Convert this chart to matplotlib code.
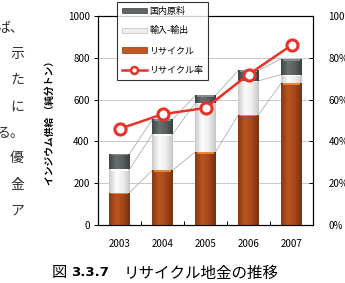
import matplotlib
matplotlib.use("Agg")
import matplotlib.pyplot as plt
import numpy as np
from matplotlib.patches import Rectangle
from matplotlib.lines import Line2D
from matplotlib.colors import LinearSegmentedColormap

plt.rcParams['font.family'] = ['Noto Sans CJK JP', 'DejaVu Sans']

years = ['2003', '2004', '2005', '2006', '2007']
recycle = [155, 262, 350, 528, 680]
import_export = [112, 173, 235, 162, 40]
domestic = [75, 70, 35, 50, 75]
recycle_rate = [0.46, 0.53, 0.56, 0.72, 0.86]
side_text = ['ば、', '示', 'た', 'に', 'る。', '優', '金', 'ア']

W, H = 345, 283
fig = plt.figure(figsize=(W / 100, H / 100), dpi=100)
ax = fig.add_axes([98 / W, 1 - 225 / H, 215 / W, 209 / H])

x = np.arange(len(years))
bw = 0.47
rec = np.array(recycle, float)
imp = np.array(import_export, float)
dom = np.array(domestic, float)

ax.set_axisbelow(True)
ax.yaxis.grid(True, color='#c8c8c8', lw=0.7)

b1 = ax.bar(x, rec, bw, color='#a84a1a', zorder=3)
b2 = ax.bar(x, imp, bw, bottom=rec, color='#e4e4e4', zorder=3)
b3 = ax.bar(x, dom, bw, bottom=rec + imp, color='#555a5a', zorder=3)

cm_rec = LinearSegmentedColormap.from_list('r', ['#8a3712', '#b8561f', '#a4471a', '#7a300e'])
cm_imp = LinearSegmentedColormap.from_list('i', ['#c9cbcb', '#fbfbfb', '#eeeeee', '#c4c6c6'])
cm_dom = LinearSegmentedColormap.from_list('d', ['#3f4444', '#6a7070', '#5a6060', '#3a3f3f'])
grad = np.linspace(0, 1, 64).reshape(1, -1)
for bars, cm, topc in [(b1, cm_rec, '#f08a3c'), (b2, cm_imp, '#ffffff'), (b3, cm_dom, '#8a9090')]:
    for p in bars:
        x0, y0 = p.get_x(), p.get_y()
        w, h = p.get_width(), p.get_height()
        im = ax.imshow(grad, extent=[x0, x0 + w, y0, y0 + h], aspect='auto',
                       cmap=cm, zorder=3.1, interpolation='bilinear')
        im.set_clip_path(p)
        ax.add_patch(Rectangle((x0 + w * 0.06, y0 + h - min(8, h * 0.3)), w * 0.88,
                               min(8, h * 0.3), color=topc, zorder=3.2, lw=0, alpha=0.9))

for level in [rec, rec + imp, rec + imp + dom]:
    for i in range(len(x) - 1):
        ax.plot([x[i] + bw / 2, x[i + 1] - bw / 2], [level[i], level[i + 1]],
                color='#b0b0b0', lw=0.6, zorder=2.5)

ax.set_xlim(-0.5, len(x) - 0.5)
ax.set_ylim(0, 1000)
ax.set_yticks(range(0, 1001, 200))
ax.set_xticks(x)
ax.set_xticklabels(years)
ax.set_xticks(np.arange(-0.5, len(x), 1), minor=True)
ax.tick_params(axis='x', which='major', length=0, labelsize=7, pad=10)
ax.tick_params(axis='x', which='minor', length=3, direction='in', width=0.7)
ax.tick_params(axis='y', labelsize=7, length=3, width=0.7, pad=3)
for s in ax.spines.values():
    s.set_linewidth(0.8)
ax.set_ylabel('インジウム供給 （純分トン）', fontsize=7, fontweight='bold', labelpad=9)

ax2 = ax.twinx()
ax2.plot(x, recycle_rate, color='#e8322a', lw=1.8, marker='o', ms=8,
         mfc='white', mec='#e8322a', mew=2.2, zorder=5)
ax2.set_ylim(0, 1)
ax2.set_yticks(np.arange(0, 1.01, 0.2))
ax2.set_yticklabels([f'{int(round(v * 100))}%' for v in np.arange(0, 1.01, 0.2)])
ax2.tick_params(axis='y', labelsize=7, length=3, width=0.7, pad=11, direction='in')
ax2.set_zorder(ax.get_zorder() + 1)
ax2.patch.set_visible(False)

handles = [
    Rectangle((0, 0), 1, 1, facecolor='#5f6464', edgecolor='#3a3f3f', lw=0.5),
    Rectangle((0, 0), 1, 1, facecolor='#eeeeee', edgecolor='#c0c0c0', lw=0.5),
    Rectangle((0, 0), 1, 1, facecolor='#c0581f', edgecolor='#8a3712', lw=0.5),
    Line2D([], [], color='#e8322a', lw=1.8, marker='o', ms=5, mfc='white', mew=1.8),
]
labels = ['国内原料', '輸入-輸出', 'リサイクル', 'リサイクル率']
leg = fig.legend(handles, labels, loc='upper left', bbox_to_anchor=(117 / W, 1 - 2 / H),
                 fontsize=6.5, frameon=True, fancybox=False, edgecolor='black',
                 handlelength=2.8, handleheight=0.55, labelspacing=1.2,
                 borderpad=0.5, handletextpad=0.3, borderaxespad=0)
leg.get_frame().set_linewidth(0.8)

cy = 1 - 273 / H
fig.text(52 / W, cy, '図', fontsize=11, ha='left', va='center')
fig.text(71 / W, cy, '3.3.7', fontsize=9.5, fontweight='bold', ha='left', va='center',
         family='DejaVu Sans')
fig.text(124 / W, cy, 'リサイクル地金の推移', fontsize=11.2, ha='left', va='center')

ys = [28, 54, 80, 107, 133, 158, 185, 211]
for t, yy in zip(side_text, ys):
    fig.text(24 / W, 1 - yy / H, t, fontsize=10, ha='right', va='center', color='#333333')

fig.savefig('out.png', dpi=100)
